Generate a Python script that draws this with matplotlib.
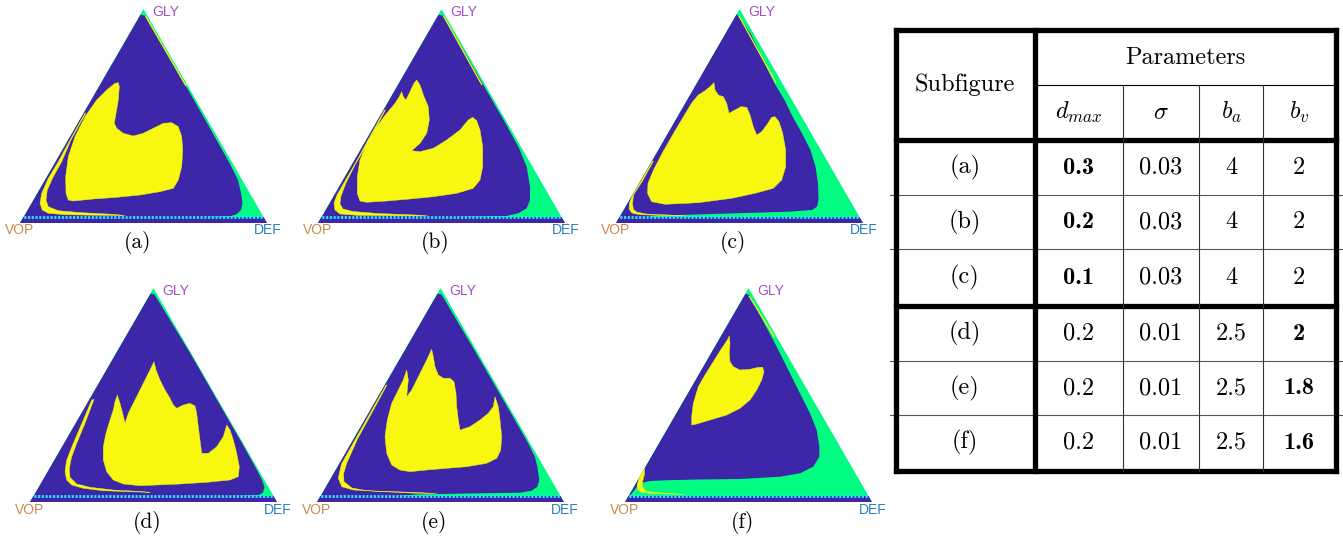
import matplotlib.pyplot as plt
from matplotlib.patches import Polygon, Rectangle

plt.rcParams['mathtext.fontset'] = 'cm'

# --- colours (parula-like) ---
PURPLE = '#3e26a8'
YELLOW = '#f7f70f'
GREEN = '#00fc80'
CYAN = '#22e4ff'

# simplex drawn in pixel units: base width and height
TRI_W = 247.0
TRI_H = 213.9
STRIP_Y = 6.0

panel_names = ['(a)', '(b)', '(c)', '(d)', '(e)', '(f)']
# base-left corner (VOP) of each simplex in figure pixels (x from left, y from top)
panel_origin = [(20, 223), (318, 223), (616, 223), (30, 502), (317, 502), (625, 502)]

# --- region outlines, panel coords (x right from VOP, y up from base) ---
# purple region: right-hand boundary from apex down to the base
purple_a = [(120.5, 208.5), (125.5, 207), (158.5, 150), (187, 100), (209.5, 60), (218, 43),
            (221, 30), (222.5, 20), (221, 13), (217, 9), (211, 7), (195, 6.5)]
purple_b = [(120.5, 208.5), (125.5, 207), (158.5, 150), (187.3, 100), (201, 75), (208.7, 56.3),
            (212, 36.3), (212, 23), (208.7, 14.7), (200.3, 9.7), (188.7, 7), (150, 6.5)]
purple_c = [(120.5, 209), (134.5, 189.7), (150.5, 156.3), (158.5, 139.7), (168.5, 123),
            (176.6, 106.3), (186, 89.7), (194.5, 73), (199.5, 56.3), (202, 39.7), (202.5, 23),
            (201, 16.3), (196, 13), (173, 11.3), (140, 10.3), (106, 9.3), (73, 8.3), (40, 7.5)]
purple_d = [(120.5, 208.5), (124.5, 207.5), (159.5, 150), (188.3, 100), (211.4, 60), (222.5, 40),
            (228, 30), (232, 22), (234.5, 15), (233, 9.5), (229, 7), (210, 6.3)]
purple_e = [(120.5, 208.5), (124.5, 207.5), (158.5, 150), (187.5, 100), (210.5, 60), (218, 45),
            (220.3, 35.3), (222.3, 22), (220.3, 15.3), (214.7, 11.3), (203, 9.3), (150, 8.5),
            (100, 7.5)]
purple_f = [(120.5, 208.5), (124.5, 206.5), (151.7, 155.3), (168.3, 122), (185, 88.7),
            (191.7, 72), (194.3, 55.3), (194.3, 45.3), (188.3, 35.3), (175, 28.7), (155, 25.3),
            (115, 23), (75, 22.5), (42, 21.8), (25, 21), (18, 19.5), (13.5, 17)]

# main yellow basin
blob_a = [(98.3, 140.3), (99.3, 136.3), (98.3, 123), (96, 109.7), (94.3, 99.7), (96.7, 94.7),
          (103.3, 89.7), (113.3, 87), (123.3, 89.7), (133.3, 94.7), (143.3, 99.7), (151.7, 100.3),
          (158.3, 96.3), (161.7, 86.3), (162.7, 73), (161.7, 56.3), (158.3, 43), (153.3, 34.7),
          (140, 31.3), (120, 28), (96.7, 25.7), (73.3, 24), (53.3, 22), (48.3, 23), (46, 29.7),
          (45.7, 46.3), (48.3, 66.3), (55, 86.3), (65, 106.3), (76.7, 123), (86.7, 133),
          (95, 139.7)]
blob_b = [(98.7, 143), (102, 138), (106, 126.3), (110.3, 116.3), (111.3, 103), (108.7, 89.7),
          (102, 79.7), (93.7, 72.3), (102, 71.3), (115.3, 74.7), (128.7, 83), (142, 93),
          (150.3, 103), (154.7, 105.7), (158.7, 102.3), (162, 93), (164.7, 76.3), (164.7, 56.3),
          (162, 43), (155.3, 34.7), (138.7, 29.7), (115.3, 26.3), (92, 24), (68.7, 22),
          (48.7, 20.7), (42, 22), (39.3, 29.7), (39.3, 46.3), (42, 63), (48.7, 79.7),
          (58.7, 96.3), (68.7, 109.7), (77, 119.7), (81.3, 126.3), (83.7, 131.3), (85.3, 126.3),
          (88, 123), (92, 131.3), (96, 139.7)]
blob_c = [(98, 140.3), (99, 133), (102.3, 128), (107.3, 126.3), (110.7, 119.7), (113, 109.7),
          (119, 113), (125, 116.3), (130.7, 115.7), (134, 108), (137.3, 96.3), (140.7, 88),
          (145.7, 91.3), (150.7, 98), (155.7, 105.7), (159, 106.3), (163, 101.3), (166.7, 89.7),
          (169.7, 73), (169.7, 56.3), (165.7, 43), (157.3, 34.7), (139, 29.7), (115.7, 24.7),
          (82.3, 20.3), (49, 18.7), (35.7, 21.3), (31.5, 29.7), (32, 39.7), (37.5, 53),
          (47, 71.3), (58.5, 91.3), (69.5, 109.7), (75.5, 119.7), (82.3, 128), (89, 132.3),
          (94, 136.3)]
blob_d = [(87.3, 107), (90, 98.7), (92.7, 88.7), (95, 78.7), (98.3, 88.7), (103.3, 98.7),
          (110, 112), (115, 122), (120, 132), (124, 140.3), (126, 132), (130, 122), (135, 112),
          (140, 103.7), (143.3, 97), (146.7, 93.7), (153.3, 97), (160, 98.7), (165, 96),
          (166.7, 88.7), (168.3, 75.3), (170, 62), (171.7, 48.7), (178.3, 48.7), (186.7, 55.3),
          (193.3, 65.3), (196.7, 77), (200, 72), (203.3, 62), (206.7, 48.7), (209.3, 35.3),
          (208.3, 25.3), (200, 22), (176.7, 19.7), (150, 18), (126.7, 17), (110, 16.3),
          (93.3, 18), (83.3, 22), (76.7, 30.3), (73.3, 42), (73.3, 55.3), (76, 68.7), (80, 82),
          (83.3, 92), (85, 100.3)]
blob_e = [(89.7, 132), (91.3, 122), (90.3, 112), (89.7, 105.3), (94.7, 112), (99.7, 122),
          (104.7, 132), (109.7, 142), (114.7, 152.7), (116.3, 145.3), (118, 135.3),
          (121.3, 127), (126.3, 123.7), (133, 123.7), (137, 120.3), (139, 108.7), (139.7, 95.3),
          (141.3, 82), (143, 72), (153, 75.3), (163, 82), (171.3, 88.7), (176.3, 95.3),
          (178, 105.3), (181.3, 95.3), (183, 82), (184.7, 65.3), (183.7, 52), (179.7, 43.7),
          (169.7, 38.7), (149.7, 35.3), (129.7, 33.7), (109.7, 32), (93, 30.3), (83, 32),
          (74.7, 37), (69.7, 48.7), (68, 65.3), (70.3, 82), (74.7, 98.7), (81.3, 112),
          (86.3, 122)]
blob_f = [(104.3, 166), (105, 158.7), (104.3, 148.7), (105, 140.3), (108.3, 135.3), (115, 132),
          (125, 132.7), (133.3, 134.7), (137.7, 134.7), (139, 130.3), (136.7, 122),
          (131.7, 112), (125, 102), (115, 93.7), (101.7, 87), (85, 82), (71.7, 78), (66.7, 77),
          (66.7, 85.3), (68.3, 98.7), (73.3, 115.3), (80, 127), (88.3, 140.3), (96.7, 153.7),
          (101.7, 161)]

# thin yellow sliver near the VOP side (outer edge, then inner edge back)
sliver_a = [(65, 110), (50, 83), (38.3, 61.3), (28.3, 44.7), (21.7, 29.7), (20, 19.7),
            (22.3, 13), (28.3, 9.7), (45, 8.3), (78.3, 7.7), (105, 7.4),
            (95, 8.6), (61.7, 10.3), (38.3, 12.3), (28.3, 16.3), (26, 23), (27.3, 33),
            (33.3, 46.3), (41.7, 61.3), (51, 83), (65.8, 110)]
sliver_b = [(66.5, 113), (50, 83), (38, 61), (27, 42), (19, 28), (16, 20), (17, 13), (22, 9),
            (40, 7.6), (75, 7.2), (110, 7.0),
            (100, 7.9), (60, 9.5), (35, 11.5), (25, 14), (22, 19), (23, 27), (28, 40),
            (37, 58), (51, 82), (67.4, 113)]
sliver_c = [(36.5, 62), (25, 42), (16.5, 28), (13.5, 20), (13, 14), (16, 10), (24, 8.3),
            (45, 7.6), (70, 7.3),
            (55, 7.9), (30, 9.0), (21, 10.8), (17.5, 13.5), (16.5, 19), (17.5, 28),
            (26.5, 42), (37.5, 62)]
sliver_d = [(61.7, 102), (53.3, 82), (43.3, 58.7), (36.7, 42), (35, 30.3), (36.7, 22),
            (41.7, 17), (53.3, 13.7), (73.3, 11.3), (100, 10.3), (120, 9.7),
            (113.3, 10.3), (83.3, 12), (60, 14.7), (46.7, 18), (40, 24.7), (39.3, 33.7),
            (41.7, 45.3), (46.7, 58.7), (55, 78.7), (64, 102.7)]
sliver_e = [(69, 117), (55.5, 93), (38.5, 63), (24.5, 38), (21.3, 24), (24.7, 15.3),
            (36.3, 12), (66.3, 10.3), (100, 8.7), (120, 8.3),
            (105, 9.3), (50, 11.3), (35, 14), (27, 20.3), (26.5, 28), (29.7, 38.7),
            (40.5, 63), (57, 93), (70, 117)]
sliver_f = [(18.8, 33), (14, 24), (12, 16), (13, 12), (16, 10), (25, 8.7), (41.7, 8), (60, 7.7),
            (45, 8.5), (30, 9.5), (21, 11), (17.5, 15), (17.5, 20), (19.5, 28), (19.6, 33)]

# yellow line along the GLY-DEF edge near the apex
edge_a = [(125.5, 207), (166, 137)]
edge_b = [(125.5, 207), (164, 138)]
edge_c = [(123, 207), (160, 140)]
edge_d = []
edge_e = []
edge_f = [(124, 206), (149.5, 165)]

purples = [purple_a, purple_b, purple_c, purple_d, purple_e, purple_f]
blobs = [blob_a, blob_b, blob_c, blob_d, blob_e, blob_f]
slivers = [sliver_a, sliver_b, sliver_c, sliver_d, sliver_e, sliver_f]
edges = [edge_a, edge_b, edge_c, edge_d, edge_e, edge_f]

# --- table ---
subfig = ['(a)', '(b)', '(c)', '(d)', '(e)', '(f)']
d_max = ['0.3', '0.2', '0.1', '0.2', '0.2', '0.2']
sigma = ['0.03', '0.03', '0.03', '0.01', '0.01', '0.01']
b_a = ['4', '4', '4', '2.5', '2.5', '2.5']
b_v = ['2', '2', '2', '2', '1.8', '1.6']
bold_dmax = [True, True, True, False, False, False]
bold_bv = [False, False, False, True, True, True]
param_heads = [r'$d_{max}$', r'$\sigma$', r'$b_a$', r'$b_v$']

FW, FH = 1343, 540
fig = plt.figure(figsize=(FW / 100, FH / 100), dpi=100)

tab = fig.add_axes([0, 0, 1, 1])
tab.set_xlim(0, FW)
tab.set_ylim(FH, 0)
tab.axis('off')

col_edges = [895.5, 1034.5, 1123, 1199, 1263, 1335.5]
row_edges = [30, 85, 140, 195, 249, 306, 361, 415, 470.5]
THICK = 3.8
THIN = 0.8
for i in [0, 2, 5, 8]:
    tab.plot([col_edges[0], col_edges[-1]], [row_edges[i]] * 2, color='black', lw=THICK,
             solid_capstyle='projecting')
for i in [3, 4, 6, 7]:
    tab.plot([890, FW], [row_edges[i]] * 2, color='#555555', lw=THIN)
tab.plot([col_edges[1], col_edges[-1]], [row_edges[1]] * 2, color='black', lw=THIN)
for j in [0, 1, 5]:
    tab.plot([col_edges[j]] * 2, [row_edges[0], row_edges[-1]], color='black', lw=THICK,
             solid_capstyle='projecting')
for j in [2, 3, 4]:
    tab.plot([col_edges[j]] * 2, [row_edges[1], row_edges[-1]], color='#333333', lw=THIN)

cx = [(col_edges[k] + col_edges[k + 1]) / 2 for k in range(5)]
TS = 17.5
ROMAN = 'cmr10'
BOLD = 'cmb10'
tab.text(cx[0], (row_edges[0] + row_edges[2]) / 2, 'Subfigure', fontsize=TS,
         family=ROMAN, ha='center', va='center')
tab.text((col_edges[1] + col_edges[-1]) / 2, (row_edges[0] + row_edges[1]) / 2,
         'Parameters', fontsize=TS, family=ROMAN, ha='center', va='center')
for k, h in enumerate(param_heads):
    tab.text(cx[k + 1], (row_edges[1] + row_edges[2]) / 2, h, fontsize=TS, ha='center',
             va='center')

for r in range(6):
    yc = (row_edges[2 + r] + row_edges[3 + r]) / 2
    cells = [(subfig[r], False), (d_max[r], bold_dmax[r]), (sigma[r], False),
             (b_a[r], False), (b_v[r], bold_bv[r])]
    for k, (v, bold) in enumerate(cells):
        tab.text(cx[k], yc, v, fontsize=TS, family=BOLD if bold else ROMAN,
                 ha='center', va='center')

# --- simplex panels ---
PAD_L, PAD_R, PAD_B, PAD_T = 20, 20, 32, 8
tri_pts = [(0, 0), (TRI_W, 0), (TRI_W / 2, TRI_H)]
lab_font = 'Liberation Sans'

for p in range(6):
    x0, y0 = panel_origin[p]
    w = TRI_W + PAD_L + PAD_R
    h = TRI_H + PAD_B + PAD_T
    ax = fig.add_axes([(x0 - PAD_L) / FW, (FH - y0 - PAD_B) / FH, w / FW, h / FH])
    ax.set_xlim(-PAD_L, TRI_W + PAD_R)
    ax.set_ylim(-PAD_B, TRI_H + PAD_T)
    ax.axis('off')

    tri = Polygon(tri_pts, closed=True, facecolor=GREEN, edgecolor='none')
    ax.add_patch(tri)

    stable = Polygon([(0, 0)] + purples[p], closed=True, facecolor=PURPLE, edgecolor='none')
    strip = Rectangle((-5, -1), TRI_W + 10, STRIP_Y + 1, facecolor=PURPLE, edgecolor='none')
    basin = Polygon(blobs[p], closed=True, facecolor=YELLOW, edgecolor=YELLOW, lw=0.3)
    sliver = Polygon(slivers[p], closed=True, facecolor=YELLOW, edgecolor=YELLOW, lw=0.3)
    for art in [stable, strip, sliver, basin]:
        ax.add_patch(art)
        art.set_clip_path(tri)

    if edges[p]:
        ex, ey = zip(*edges[p])
        ln, = ax.plot(ex, ey, color=YELLOW, lw=0.9, solid_capstyle='butt')
        ln.set_clip_path(tri)

    dl, = ax.plot([0, TRI_W], [STRIP_Y + 0.4] * 2, color=CYAN, lw=2.0,
                  linestyle=(0, (0.8, 0.55)))
    dl.set_clip_path(tri)

    ax.text(TRI_W / 2 + 8.5, TRI_H - 2.5, 'GLY', color='#a14fc9', fontsize=10,
            family=lab_font, ha='left', va='center')
    ax.text(0, -7.5, 'VOP', color='#c98a4b', fontsize=10, family=lab_font,
            ha='center', va='center')
    ax.text(248, -7.5, 'DEF', color='#2b7fba', fontsize=10, family=lab_font,
            ha='center', va='center')
    ax.text(117.5, -20, panel_names[p], fontsize=15.5, family=ROMAN, ha='center',
            va='center')

fig.savefig('out.png', dpi=100)
